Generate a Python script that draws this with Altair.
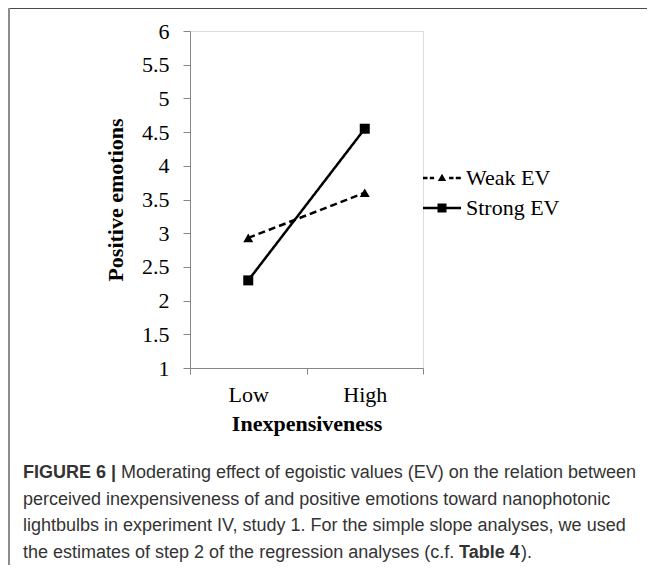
import altair as alt
import pandas as pd

# ---- data ----
levels = ["Low", "High"]
series_names = ["Weak EV", "Strong EV"]
weak_values = [2.93, 3.6]
strong_values = [2.3, 4.55]
y_ticks = [1, 1.5, 2, 2.5, 3, 3.5, 4, 4.5, 5, 5.5, 6]

caption_line1_bold = "FIGURE 6 |"
caption_line1 = "Moderating effect of egoistic values (EV) on the relation between"
caption_line2 = "perceived inexpensiveness of and positive emotions toward nanophotonic"
caption_line3 = "lightbulbs in experiment IV, study 1. For the simple slope analyses, we used"
caption_line4a = "the estimates of step 2 of the regression analyses (c.f. "
caption_line4_bold = "Table 4"
caption_line4b = ")."

rows = []
for s, vals in zip(series_names, [weak_values, strong_values]):
    for lv, v in zip(levels, vals):
        rows.append({"level": lv, "series": s, "value": v})
df = pd.DataFrame(rows)

W, H = 233, 337
SERIF = "Liberation Serif"
SANS = "Liberation Sans"
AXIS_GRAY = "#868686"

# legend symbols: line + marker drawn as custom paths
weak_path = ("M-1.9,-0.125L-1.45,-0.125L-1.45,0.125L-1.9,0.125Z "
             "M-1.22,-0.125L-0.79,-0.125L-0.79,0.125L-1.22,0.125Z "
             "M-0.42,0.3L0,-0.42L0.42,0.3Z "
             "M0.71,-0.125L1.15,-0.125L1.15,0.125L0.71,0.125Z "
             "M1.38,-0.125L1.88,-0.125L1.88,0.125L1.38,0.125Z")
strong_path = ("M-1.9,-0.125L1.9,-0.125L1.9,0.125L-1.9,0.125Z "
               "M-0.45,-0.45L0.45,-0.45L0.45,0.45L-0.45,0.45Z")

x_enc = alt.X(
    "level:N",
    sort=levels,
    scale=alt.Scale(type="band", domain=levels, paddingInner=0, paddingOuter=0),
    axis=alt.Axis(
        title="Inexpensiveness",
        labelAngle=0,
        tickBand="extent",
        tickSize=6,
        labelPadding=10,
        titlePadding=8,
        labelFont=SERIF, labelFontSize=22, labelColor="black",
        titleFont=SERIF, titleFontSize=22, titleFontWeight="bold", titleColor="black",
        domainColor=AXIS_GRAY, tickColor=AXIS_GRAY, grid=False,
    ),
)
y_enc = alt.Y(
    "value:Q",
    scale=alt.Scale(domain=[1, 6], nice=False, zero=False),
    axis=alt.Axis(
        title="Positive emotions",
        values=y_ticks,
        format="~g",
        tickSize=7,
        labelPadding=14,
        titlePadding=14,
        labelFont=SERIF, labelFontSize=22, labelColor="black",
        titleFont=SERIF, titleFontSize=22, titleFontWeight="bold", titleColor="black",
        domainColor=AXIS_GRAY, tickColor=AXIS_GRAY, grid=False,
    ),
)

base = alt.Chart(df)

lines = base.mark_line(color="black", strokeWidth=2.5).encode(
    x=x_enc, y=y_enc,
    strokeDash=alt.StrokeDash("series:N",
                              scale=alt.Scale(domain=series_names, range=[[7, 4], [1, 0]]),
                              legend=None),
    detail="series:N",
)

points = base.mark_point(filled=True, color="black", opacity=1, size=100).encode(
    x=x_enc, y=y_enc,
    shape=alt.Shape("series:N",
                    scale=alt.Scale(domain=series_names, range=["triangle-up", "square"]),
                    legend=None),
)

legend_layer = base.mark_point(filled=True, color="black", opacity=0).encode(
    x=x_enc, y=y_enc,
    shape=alt.Shape("series:N",
                    scale=alt.Scale(domain=series_names, range=[weak_path, strong_path]),
                    legend=alt.Legend(
                        title=None, orient="none", legendX=241, legendY=136,
                        symbolSize=400, labelFont=SERIF, labelFontSize=22,
                        labelColor="black", labelOffset=13, rowPadding=8, padding=0,
                        symbolFillColor="black", symbolStrokeWidth=0,
                    )),
)

one = alt.InlineData(values=[{"k": 1}])

def txt(s, x, y, bold=False):
    return alt.Chart(one).mark_text(
        align="left", baseline="alphabetic", font=SANS, fontSize=18,
        fontWeight="bold" if bold else "normal", color="#333333",
    ).encode(x=alt.value(x), y=alt.value(y), text=alt.value(s))

def rule(x, x2, y, y2, color, width):
    return alt.Chart(one).mark_rule(color=color, strokeWidth=width).encode(
        x=alt.value(x), x2=alt.value(x2), y=alt.value(y), y2=alt.value(y2))

frame_top = rule(-182, 457, -22.5, -22.5, "#4a4a4a", 1)
frame_left = rule(-181, -181, -23, 534, "#8c8c8c", 2)

captions = [
    txt(caption_line1_bold, -167, 447, bold=True),
    txt(caption_line1, -69, 447),
    txt(caption_line2, -167, 473.5),
    txt(caption_line3, -167, 500),
    txt(caption_line4a, -167, 526.5),
    txt(caption_line4_bold, 269, 526.5, bold=True),
    txt(caption_line4b, 331, 526.5),
]

chart = alt.layer(
    frame_top, frame_left, lines, points, legend_layer, *captions
).resolve_scale(
    shape="independent", strokeDash="independent"
).properties(
    width=W, height=H,
    autosize=alt.AutoSizeParams(type="none"),
    padding={"left": 182, "top": 23, "right": 224, "bottom": 197},
).configure_view(stroke=None).configure(background="white")

chart.save("out.html", embed_options={"renderer": "svg", "actions": False})
